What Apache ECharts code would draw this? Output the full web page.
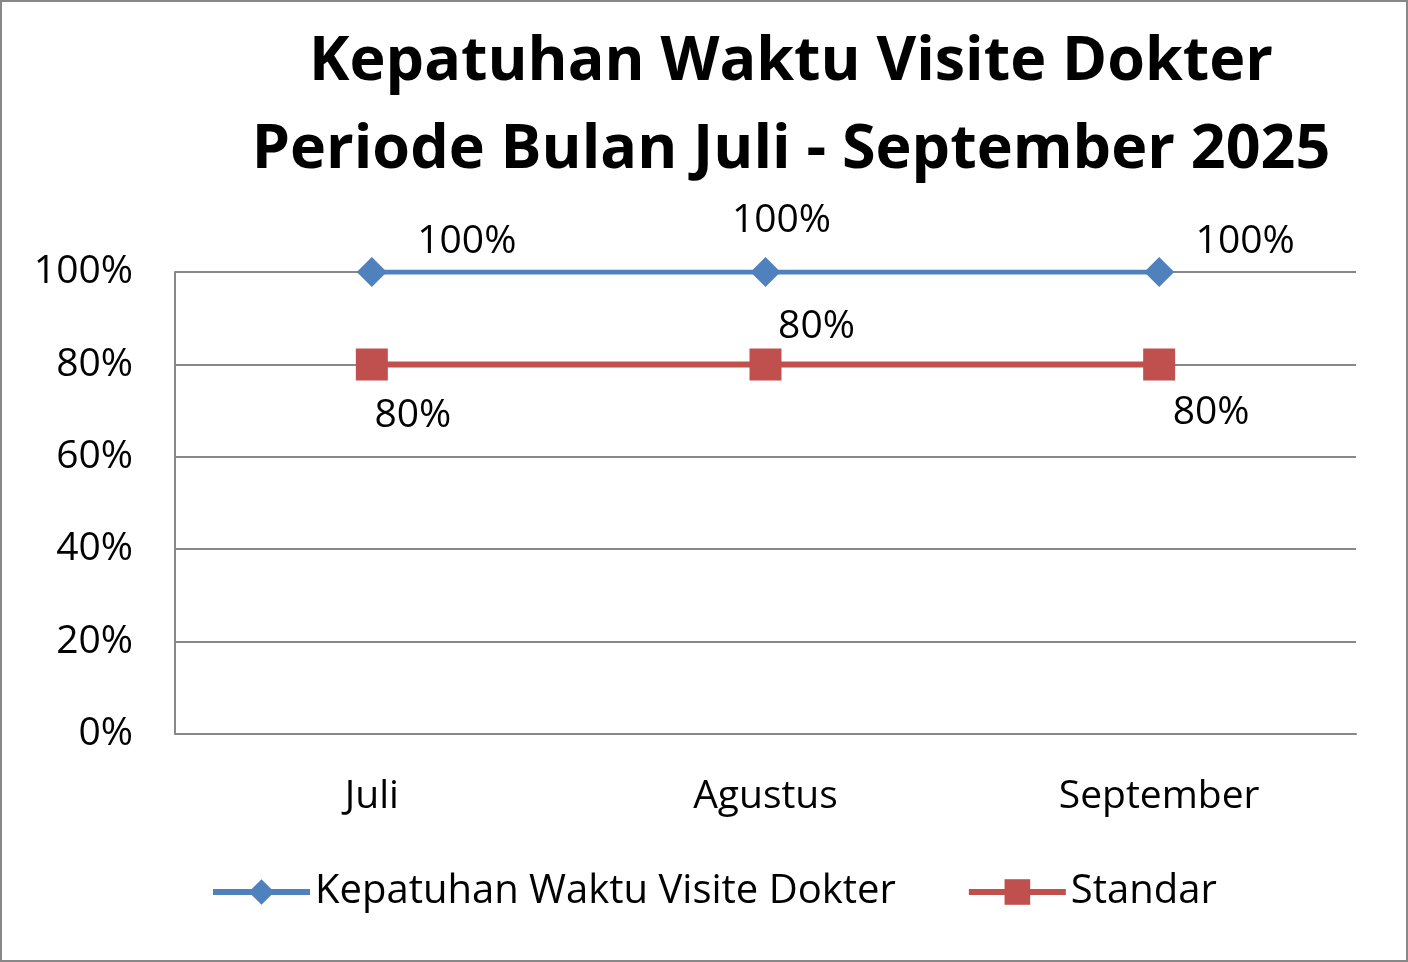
<!DOCTYPE html>
<html><head><meta charset="utf-8">
<script src="https://cdn.jsdelivr.net/npm/echarts@6/dist/echarts.min.js"></script>
<style>html,body{margin:0;padding:0;background:#fff}#w{position:relative;width:1408px;height:962px}#c{width:1408px;height:962px}#b{position:absolute;left:0;top:0;width:1408px;height:962px;box-sizing:border-box;border:2px solid #888;pointer-events:none}</style>
</head><body><div id="w"><div id="c"></div><div id="b"></div></div>
<script>
const categories = ['Juli', 'Agustus', 'September'];
const kepatuhan = [1.0, 1.0, 1.0];
const standar = [0.8, 0.8, 0.8];
const yTicks = ['0%', '20%', '40%', '60%', '80%', '100%'];
const blueOffsets = [[95, -30], [16, -51], [86, -30]];
const redOffsets = [[41, 51], [51, -38], [52, 48]];
const FONT = 'Open Sans';
const chart = echarts.init(document.getElementById('c'));
function mk(vals, offs) {
  return vals.map((v, i) => ({ value: v, label: { offset: offs[i] } }));
}
chart.setOption({
  animation: false,
  title: {
    text: 'Kepatuhan Waktu Visite Dokter\nPeriode Bulan Juli - September 2025',
    left: 786, top: 14, textAlign: 'center',
    textStyle: { fontFamily: FONT, fontSize: 61, fontWeight: 'bold', color: '#000', lineHeight: 88 }
  },
  grid: { left: 175, right: 52, top: 272, bottom: 228 },
  xAxis: {
    type: 'category', data: categories, boundaryGap: true,
    axisLine: { lineStyle: { color: '#888', width: 2 } },
    axisTick: { show: false },
    axisLabel: { fontFamily: FONT, fontSize: 39, color: '#000', margin: 43 }
  },
  yAxis: {
    type: 'value', min: 0, max: 1, interval: 0.2,
    axisLine: { show: true, lineStyle: { color: '#888', width: 2 } },
    axisTick: { show: false },
    splitLine: { lineStyle: { color: '#888', width: 2 } },
    axisLabel: { fontFamily: FONT, fontSize: 39, color: '#000', margin: 42,
      formatter: v => yTicks[Math.round(v * 5)] }
  },
  legend: {
    left: 205, top: 867, itemWidth: 97, itemHeight: 32, itemGap: 70,
    lineStyle: { width: 6 },
    textStyle: { fontFamily: FONT, fontSize: 40, color: '#000' },
    data: ['Kepatuhan Waktu Visite Dokter', 'Standar']
  },
  series: [
    {
      name: 'Kepatuhan Waktu Visite Dokter', type: 'line', data: mk(kepatuhan, blueOffsets),
      symbol: 'diamond', symbolSize: 30,
      lineStyle: { color: '#4f81bd', width: 5 }, itemStyle: { color: '#4f81bd' },
      label: { show: true, position: 'inside', fontFamily: FONT, fontSize: 39, color: '#000',
        formatter: p => Math.round(p.value * 100) + '%' }
    },
    {
      name: 'Standar', type: 'line', data: mk(standar, redOffsets),
      symbol: 'rect', symbolSize: 32,
      lineStyle: { color: '#c0504d', width: 6 }, itemStyle: { color: '#c0504d' },
      label: { show: true, position: 'inside', fontFamily: FONT, fontSize: 39, color: '#000',
        formatter: p => Math.round(p.value * 100) + '%' }
    }
  ]
});
</script></body></html>
